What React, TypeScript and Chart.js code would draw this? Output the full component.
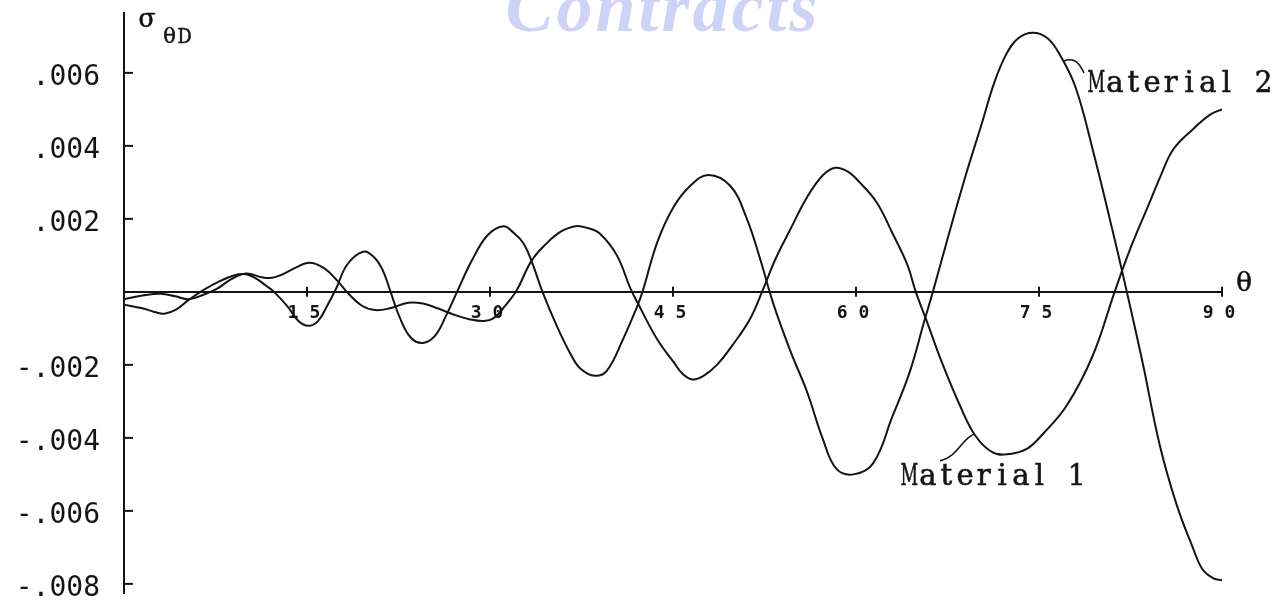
import React, { useEffect, useRef } from 'react';
import { Chart, registerables } from 'chart.js';

Chart.register(...registerables);

// Dynamic hoop stress σθD against angle θ (degrees) for the two materials
const thetaMaterial1 = [
  0, 1.5, 3.0, 4.2, 5.3, 6.5, 7.6, 8.8, 10.0, 11.3, 12.0, 12.8, 14.0, 15.2, 16.4, 17.5, 18.4, 19.5,
  20.6, 21.8, 23.3, 24.5, 25.7, 27.0, 28.3, 29.5, 30.3, 31.2, 32.2, 33.4, 34.7, 35.8, 37.0, 38.0,
  39.0, 40.4, 41.5, 42.1, 43.7, 45.0, 45.8, 46.6, 47.5, 48.6, 49.9, 51.3, 52.3, 53.4, 54.6, 56.0,
  57.3, 58.3, 59.3, 60.3, 61.7, 63.0, 64.2, 64.9, 65.8, 67.0, 68.5, 69.8, 71.2, 72.4, 74.0, 75.3,
  77.3, 79.4, 81.2, 82.5, 84.0, 85.0, 86.0, 87.6, 89.0, 90.0,
];
const sigmaMaterial1 = [
  -0.0002, -0.0001, -0.00005, -0.00012, -0.0002, -0.00008, 0.00008, 0.00035, 0.0005, 0.0004,
  0.00038, 0.00045, 0.00065, 0.0008, 0.00065, 0.0003, -0.00005, -0.00038, -0.0005, -0.00045,
  -0.0003, -0.00032, -0.00045, -0.00062, -0.00075, -0.0008, -0.00072, -0.0004, 0.00005, 0.00085,
  0.00135, 0.00165, 0.0018, 0.00175, 0.0016, 0.001, 0.0001, -0.0003, -0.0013, -0.0019,
  -0.00225, -0.0024, -0.0023, -0.002, -0.00145, -0.00075, 0.0, 0.0009, 0.0017, 0.0026,
  0.0032, 0.0034, 0.0033, 0.003, 0.00245, 0.0016, 0.00075, 0.0, -0.0008, -0.0019,
  -0.0031, -0.00395, -0.0044, -0.00445, -0.0043, -0.0039, -0.0031, -0.00175, 0.0, 0.0012,
  0.0024, 0.0032, 0.0039, 0.00445, 0.00485, 0.005,
];

const thetaMaterial2 = [
  0, 1.5, 2.5, 3.3, 4.3, 5.3, 6.5, 7.9, 9.0, 10.0, 10.9, 11.6, 12.3, 13.4, 14.3, 15.1, 15.9, 16.7,
  17.4, 18.3, 19.6, 20.5, 21.2, 21.8, 22.6, 23.5, 24.5, 25.5, 26.4, 27.3, 28.5, 29.8, 31.1, 32.0,
  32.7, 33.4, 34.3, 35.5, 36.6, 37.4, 38.6, 39.6, 40.9, 42.0, 42.5, 43.7, 45.0, 46.4, 47.9, 49.7,
  51.0, 52.1, 53.2, 54.6, 56.0, 57.3, 58.4, 59.8, 61.4, 63.0, 64.4, 65.6, 66.3, 67.5, 69.0, 70.3,
  71.3, 72.3, 73.3, 74.5, 75.7, 76.7, 78.0, 79.4, 80.8, 82.2, 83.5, 84.9, 86.3, 87.6, 88.4, 89.3, 90.0,
];
const sigmaMaterial2 = [
  -0.00035, -0.00045, -0.00055, -0.0006, -0.00048, -0.00022, 0.00005, 0.0003, 0.00045, 0.00048,
  0.00035, 0.00018, 0.0, -0.0004, -0.0008, -0.00093, -0.0008, -0.00035, 0.0001, 0.00075,
  0.0011, 0.00095, 0.0006, 0.00005, -0.0007, -0.00125, -0.0014, -0.0012, -0.00065, 0.0,
  0.00085, 0.00155, 0.0018, 0.0016, 0.00135, 0.00085, 0.0, -0.00095, -0.0017, -0.0021,
  -0.0023, -0.00215, -0.0013, -0.00045, 0.0, 0.00135, 0.0023, 0.0029, 0.0032, 0.0029,
  0.00205, 0.00095, -0.0003, -0.0016, -0.00275, -0.00405, -0.00485, -0.005, -0.0047, -0.0034,
  -0.0022, -0.0008, 0.0, 0.00145, 0.0032, 0.0046, 0.0057, 0.0065, 0.00695, 0.0071,
  0.00695, 0.0065, 0.0056, 0.0039, 0.002, 0.0, -0.00195, -0.0042, -0.00585, -0.007,
  -0.0076, -0.00785, -0.0079,
];

const seriesNames = ['Material 1', 'Material 2'];

const thetaTicks = [15, 30, 45, 60, 75, 90];
const thetaTickLabels = ['1 5', '3 0', '4 5', '6 0', '7 5', '9 0'];
const sigmaTicks = [0.006, 0.004, 0.002, -0.002, -0.004, -0.006, -0.008];
const sigmaTickLabels = ['.006', '.004', '.002', '-.002', '-.004', '-.006', '-.008'];

const THETA_MIN = 0;
const THETA_MAX = 90;
const SIGMA_MIN = -0.00825;
const SIGMA_MAX = 0.00764;

// Curve call-outs: text anchor (left, baseline) and a leader curve from the line, in data units
const curveCallouts = [
  {
    text: seriesNames[1],
    at: [78.93, 0.00548],
    leader: [[77.0, 0.00632], [77.95, 0.00644], [78.28, 0.00627], [78.69, 0.006]],
  },
  {
    text: seriesNames[0],
    at: [63.6, -0.00529],
    leader: [[69.7, -0.0039], [68.77, -0.00397], [68.36, -0.00452], [66.89, -0.00463]],
  },
];

const INK = '#141414';
const TYPE_FACE = '"DejaVu Serif", "Liberation Serif", serif';

// Typewriter-style text: every character sits in a fixed-width cell,
// wide glyphs are squeezed to fit their cell.
function typewriterText(
  ctx: CanvasRenderingContext2D,
  text: string,
  x: number,
  y: number,
  size: number,
  advance: number,
) {
  ctx.save();
  ctx.font = `${size}px ${TYPE_FACE}`;
  ctx.textAlign = 'left';
  ctx.textBaseline = 'alphabetic';
  ctx.fillStyle = INK;
  ctx.strokeStyle = INK;
  ctx.lineWidth = 0.6;
  const room = advance * 0.95;
  for (let i = 0; i < text.length; i++) {
    const ch = text[i];
    if (ch === ' ') continue;
    const w = ctx.measureText(ch).width;
    const sx = w > room ? room / w : 1;
    const cx = x + i * advance + advance / 2;
    ctx.save();
    ctx.translate(cx, y);
    ctx.scale(sx, 1);
    ctx.fillText(ch, -w / 2, 0);
    ctx.strokeText(ch, -w / 2, 0);
    ctx.restore();
  }
  ctx.restore();
}

const plateDecor = {
  id: 'plateDecor',
  beforeDraw(chart: any) {
    const { ctx } = chart;
    ctx.save();
    ctx.font = 'italic bold 72px "Liberation Serif", serif';
    ctx.fillStyle = '#cfd3f7';
    ctx.textAlign = 'center';
    ctx.textBaseline = 'alphabetic';
    try { (ctx as any).letterSpacing = '3px'; } catch (e) { /* older canvas */ }
    ctx.fillText('Contracts', 663, 31);
    ctx.restore();
  },
  afterDraw(chart: any) {
    const { ctx, chartArea, scales } = chart;
    const xs = scales.x;
    const ys = scales.y;
    const px = (t: number) => xs.getPixelForValue(t);
    const py = (v: number) => ys.getPixelForValue(v);
    ctx.save();
    ctx.strokeStyle = INK;
    ctx.lineWidth = 2;
    // inward tick marks on the σ axis
    sigmaTicks.forEach((v) => {
      const y = py(v);
      ctx.beginPath();
      ctx.moveTo(chartArea.left, y);
      ctx.lineTo(chartArea.left + 9, y);
      ctx.stroke();
    });
    // tick marks crossing the θ axis
    const y0 = py(0);
    thetaTicks.forEach((t) => {
      const x = px(t);
      ctx.beginPath();
      ctx.moveTo(x, y0 - 5);
      ctx.lineTo(x, y0 + 5);
      ctx.stroke();
    });
    // axis titles
    typewriterText(ctx, 'σ', chartArea.left + 14, chartArea.top + 14, 26, 18);
    typewriterText(ctx, 'θD', chartArea.left + 38, chartArea.top + 30, 21, 15);
    typewriterText(ctx, 'θ', chartArea.right + 13, y0 - 1, 26, 18);
    // call-outs
    curveCallouts.forEach((c) => {
      const [s, c1, c2, e] = c.leader;
      ctx.lineWidth = 1.6;
      ctx.beginPath();
      ctx.moveTo(px(s[0]), py(s[1]));
      ctx.bezierCurveTo(px(c1[0]), py(c1[1]), px(c2[0]), py(c2[1]), px(e[0]), py(e[1]));
      ctx.stroke();
      typewriterText(ctx, c.text, px(c.at[0]), py(c.at[1]), 29, 18.6);
    });
    ctx.restore();
  },
};

export default function App() {
  const canvasRef = useRef<HTMLCanvasElement>(null);

  useEffect(() => {
    const canvas = canvasRef.current;
    if (!canvas) return;

    const toPoints = (xs: number[], ys: number[]) => xs.map((x, i) => ({ x, y: ys[i] }));
    const lineStyle = {
      borderColor: INK,
      borderWidth: 2,
      pointRadius: 0,
      fill: false,
      tension: 0.4,
    };

    const chart = new Chart(canvas, {
      type: 'line',
      data: {
        datasets: [
          { label: seriesNames[0], data: toPoints(thetaMaterial1, sigmaMaterial1), ...lineStyle },
          { label: seriesNames[1], data: toPoints(thetaMaterial2, sigmaMaterial2), ...lineStyle },
        ],
      },
      options: {
        animation: false,
        responsive: false,
        events: [],
        layout: { padding: { top: 13, bottom: 14, left: 0, right: 57 } },
        plugins: {
          legend: { display: false },
          tooltip: { enabled: false },
          title: { display: false },
        },
        scales: {
          x: {
            type: 'linear',
            min: THETA_MIN,
            max: THETA_MAX,
            position: { y: 0 } as any,
            afterBuildTicks: (s: any) => {
              s.ticks = thetaTicks.map((value) => ({ value }));
            },
            afterFit: (s: any) => {
              s.height = 0;
              s.paddingLeft = 0;
              s.paddingRight = 0;
            },
            grid: { drawOnChartArea: false, drawTicks: false },
            border: { display: true, color: INK, width: 2 },
            ticks: {
              callback: (_v: any, i: number) => thetaTickLabels[i],
              font: { family: '"DejaVu Sans Mono", monospace', size: 18, weight: 'bold' },
              color: INK,
              padding: 11,
              labelOffset: -3,
              maxRotation: 0,
              autoSkip: false,
            },
          },
          y: {
            type: 'linear',
            min: SIGMA_MIN,
            max: SIGMA_MAX,
            position: 'left',
            afterBuildTicks: (s: any) => {
              s.ticks = sigmaTicks.map((value) => ({ value }));
            },
            afterFit: (s: any) => {
              s.width = 124;
              s.paddingTop = 0;
              s.paddingBottom = 0;
            },
            grid: { drawOnChartArea: false, drawTicks: false },
            border: { display: true, color: INK, width: 2 },
            ticks: {
              callback: (_v: any, i: number) => sigmaTickLabels[i],
              font: { family: '"DejaVu Sans Mono", monospace', size: 28 },
              color: INK,
              padding: 24,
              labelOffset: 5,
              autoSkip: false,
            },
          },
        },
      },
      plugins: [plateDecor],
    });

    return () => chart.destroy();
  }, []);

  return (
    <div style={{ position: 'absolute', left: 0, top: 0, width: 1279, height: 607, background: '#fff' }}>
      <canvas ref={canvasRef} width={1279} height={607} style={{ display: 'block' }} />
    </div>
  );
}
